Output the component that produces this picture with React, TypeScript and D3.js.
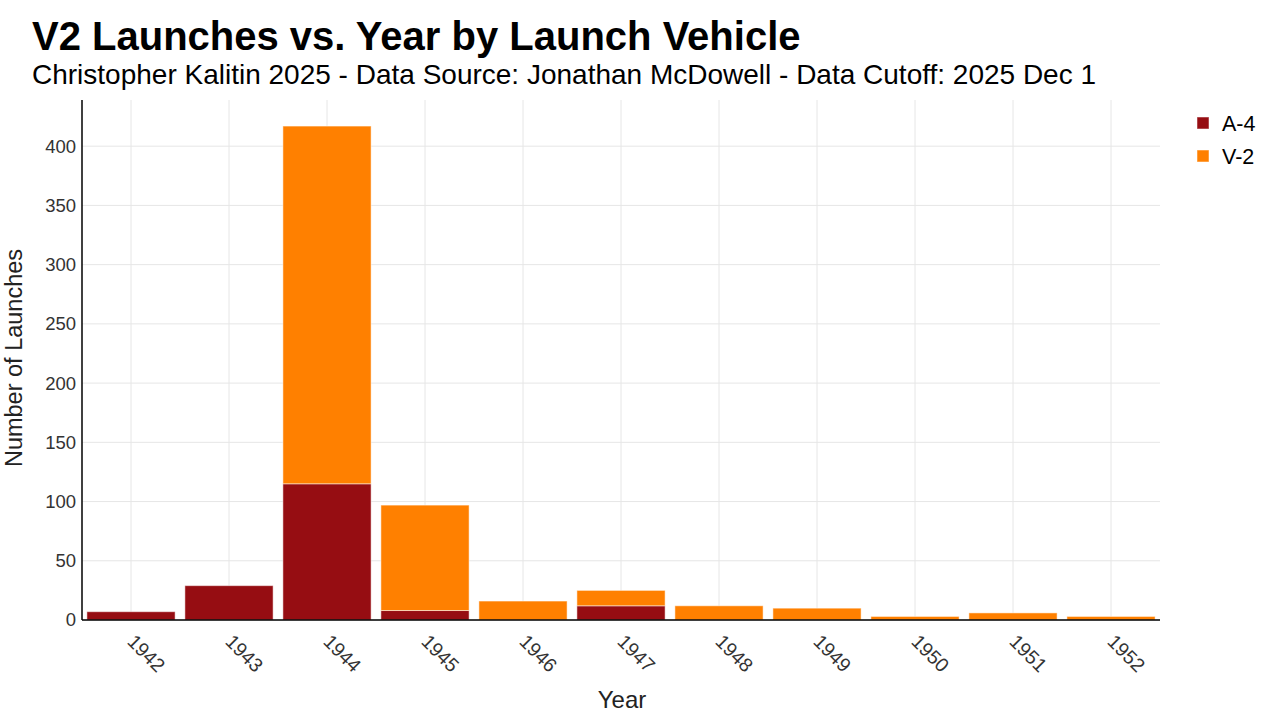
import React from "react";
import * as d3 from "d3";

// ── Data ────────────────────────────────────────────────────────────────
const years = ["1942", "1943", "1944", "1945", "1946", "1947", "1948", "1949", "1950", "1951", "1952"];
const a4 = [7, 29, 115, 8, 0, 12, 0, 0, 0, 0, 0];
const v2 = [0, 0, 302, 89, 16, 13, 12, 10, 3, 6, 3];
const yTicks = [0, 50, 100, 150, 200, 250, 300, 350, 400];

const seriesNames = ["A-4", "V-2"];
const seriesColors = ["#960d12", "#ff8000"];

const WIDTH = 1280;
const HEIGHT = 720;
const M = { top: 100, right: 120, bottom: 100, left: 82 };
const FONT = "'Liberation Sans', Arial, sans-serif";

export default function App() {
  const iW = WIDTH - M.left - M.right;
  const iH = HEIGHT - M.top - M.bottom;

  const x = d3.scaleBand<string>().domain(years).range([0, iW]).paddingInner(0.1).paddingOuter(0.05);
  const y = d3.scaleLinear().domain([0, 439]).range([iH, 0]);

  const rows = years.map((yr, i) => ({ year: yr, "A-4": a4[i], "V-2": v2[i] }));
  const stacked = d3.stack<any>().keys(seriesNames)(rows);

  return (
    <svg width={WIDTH} height={HEIGHT} style={{ position: "absolute", left: 0, top: 0, background: "#fff" }} fontFamily={FONT}>
      <text x={32} y={50} fontSize={40} fontWeight="bold" fill="#000">V2 Launches vs. Year by Launch Vehicle</text>
      <text x={32} y={84} fontSize={28} fill="#000">Christopher Kalitin 2025 - Data Source: Jonathan McDowell - Data Cutoff: 2025 Dec 1</text>

      <g transform={`translate(${M.left},${M.top})`}>
        {/* grid */}
        {yTicks.map((t) => (
          <line key={"gy" + t} x1={0} x2={iW} y1={y(t)} y2={y(t)} stroke="#e6e6e6" strokeWidth={1} />
        ))}
        {years.map((yr) => (
          <line key={"gx" + yr} x1={x(yr)! + x.bandwidth() / 2} x2={x(yr)! + x.bandwidth() / 2} y1={0} y2={iH} stroke="#e6e6e6" strokeWidth={1} />
        ))}

        {/* bars */}
        {stacked.map((s, si) => (
          <g key={s.key} fill={seriesColors[si]}>
            {s.map((d, i) =>
              d[1] - d[0] > 0 ? (
                <rect
                  key={i}
                  x={x(years[i])}
                  y={y(d[1])}
                  width={x.bandwidth()}
                  height={y(d[0]) - y(d[1])}
                  stroke="#fff"
                  strokeOpacity={0.5}
                  strokeWidth={1}
                />
              ) : null
            )}
          </g>
        ))}

        {/* axes */}
        <line x1={0} x2={0} y1={0} y2={iH} stroke="#000" strokeWidth={1.5} />
        <line x1={0} x2={iW} y1={iH} y2={iH} stroke="#000" strokeWidth={1.5} />

        {yTicks.map((t) => (
          <text key={"ty" + t} x={-6} y={y(t)} dy="0.35em" textAnchor="end" fontSize={18.5} fill="#333">{t}</text>
        ))}
        {years.map((yr) => {
          const cx = x(yr)! + x.bandwidth() / 2;
          return (
            <text key={"tx" + yr} transform={`translate(${cx},${iH + 18}) rotate(45)`} fontSize={19.5} fill="#333" dy="0.35em">
              {yr}
            </text>
          );
        })}

        <text x={iW / 2 + 1} y={iH + 88} textAnchor="middle" fontSize={24} fill="#222">Year</text>
        <text transform={`translate(${-60},${iH / 2 - 2}) rotate(-90)`} textAnchor="middle" fontSize={23.5} fill="#222">Number of Launches</text>
      </g>

      {/* legend */}
      {seriesNames.map((n, i) => (
        <g key={n} transform={`translate(1197,${117 + i * 33})`}>
          <rect width={12} height={12} fill={seriesColors[i]} stroke="#fff" strokeOpacity={0.5} />
          <text x={25} y={6} dy="0.35em" fontSize={21.5} fill="#000">{n}</text>
        </g>
      ))}
    </svg>
  );
}
